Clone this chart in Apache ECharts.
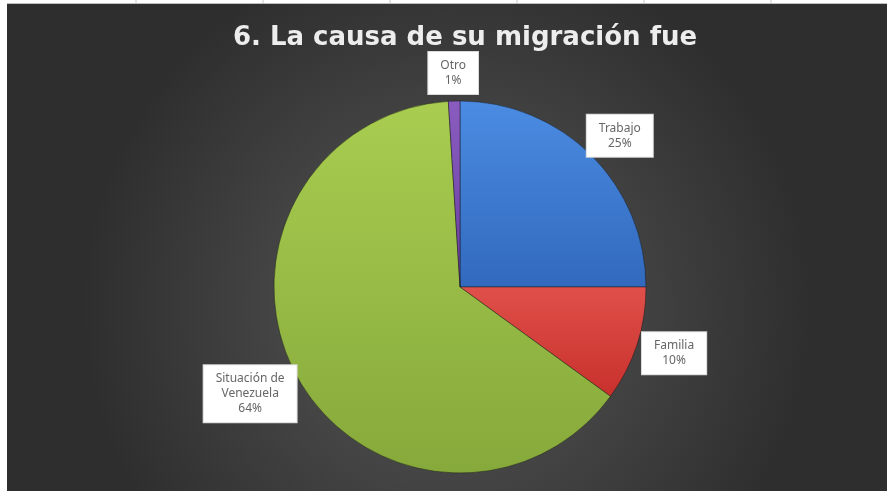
<!DOCTYPE html>
<html>
<head>
<meta charset="utf-8">
<script src="https://cdn.jsdelivr.net/npm/echarts@6/dist/echarts.min.js"></script>
<style>
html,body{margin:0;padding:0;background:#ffffff;}
#chart{width:887px;height:494px;}
</style>
</head>
<body>
<div id="chart"></div>
<script>
var titleText = "6. La causa de su migración fue";
var categories = ["Trabajo", "Familia", "Situación de\nVenezuela", "Otro"];
var values = [25, 10, 64, 1];
var topColors = ["#4B8CE2", "#E0504A", "#A8CD50", "#8A5CC0"];
var bottomColors = ["#3169BD", "#C8302C", "#86A93B", "#6A3FA0"];

var pieCenter = [460, 287];
var pieRadius = 186;
var labelGap = 6;

var chart = echarts.init(document.getElementById("chart"));

var data = categories.map(function (c, i) {
  return {
    name: c,
    value: values[i],
    itemStyle: {
      color: new echarts.graphic.LinearGradient(0, 0, 0, 1, [
        { offset: 0, color: topColors[i] },
        { offset: 1, color: bottomColors[i] }
      ])
    }
  };
});

var gridLineXs = [136, 263, 390, 517, 644, 771];
var graphics = [{
  type: "rect",
  z: -10,
  shape: { x: 7, y: 4, width: 880, height: 487 },
  style: {
    fill: new echarts.graphic.RadialGradient(0.5, 0.62, 0.75, [
      { offset: 0, color: "#585858" },
      { offset: 1, color: "#2e2e2e" }
    ])
  }
}];
gridLineXs.forEach(function (x) {
  graphics.push({
    type: "line", z: -10,
    shape: { x1: x, y1: 0, x2: x, y2: 4 },
    style: { stroke: "#c8c8c8", lineWidth: 1 }
  });
});
graphics.push({
  type: "line", z: -10,
  shape: { x1: 7, y1: 3.5, x2: 887, y2: 3.5 },
  style: { stroke: "#bdbdbd", lineWidth: 1 }
});

chart.setOption({
  backgroundColor: "#ffffff",
  animation: false,
  title: {
    text: titleText,
    left: 460,
    textAlign: "center",
    top: 20,
    textStyle: {
      color: "#EDEDED",
      fontSize: 26,
      fontWeight: "bold",
      fontFamily: "DejaVu Sans"
    }
  },
  graphic: graphics,
  series: [{
    type: "pie",
    center: pieCenter,
    radius: [0, pieRadius],
    startAngle: 90,
    clockwise: true,
    data: data,
    itemStyle: {
      borderColor: "rgba(20,20,20,0.45)",
      borderWidth: 1
    },
    label: {
      show: true,
      position: "outside",
      formatter: function (p) {
        return p.name.split("\n").map(function (s) { return "{t|" + s + "}"; }).join("\n") +
          "\n{t|" + Math.round(p.percent) + "%}";
      },
      rich: {
        t: {
          color: "#666666",
          fontSize: 12,
          fontFamily: "Noto Sans",
          lineHeight: 15,
          align: "center"
        }
      },
      backgroundColor: "#ffffff",
      borderColor: "#d9d9d9",
      borderWidth: 1,
      padding: [6, 12, 6, 12]
    },
    labelLine: {
      show: false,
      length: 8,
      length2: 0
    },
    labelLayout: function (params) {
      var pts = params.labelLinePoints;
      if (!pts) return {};
      var e = pts[0];
      var dx = e[0] - pieCenter[0], dy = e[1] - pieCenter[1];
      var len = Math.sqrt(dx * dx + dy * dy) || 1;
      dx /= len; dy /= len;
      var w = params.labelRect.width, h = params.labelRect.height;
      return {
        x: e[0] + dx * labelGap + dx * w / 2,
        y: e[1] + dy * labelGap + dy * h / 2,
        align: "center",
        verticalAlign: "middle",
        hideOverlap: false
      };
    }
  }]
});
</script>
</body>
</html>
